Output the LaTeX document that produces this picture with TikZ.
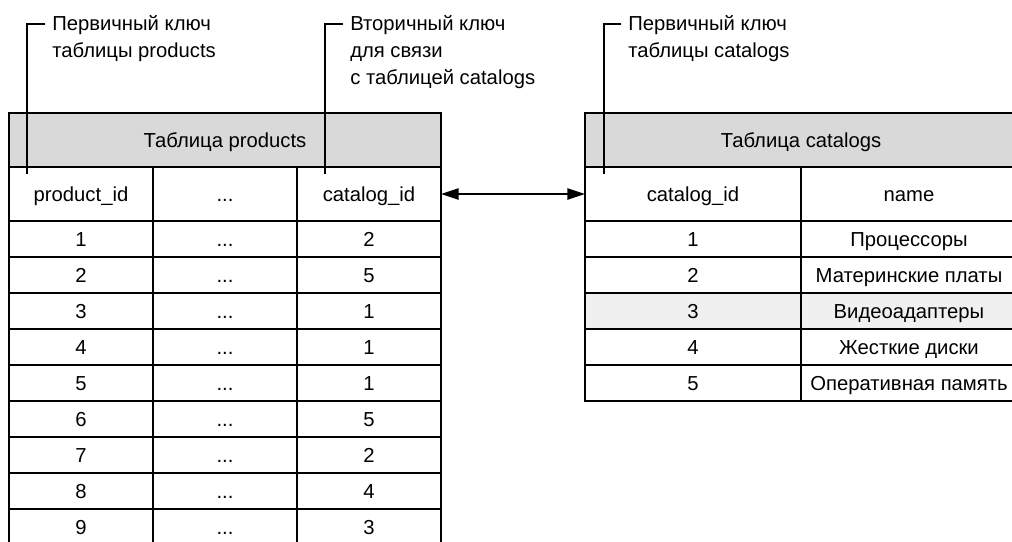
\documentclass[tikz,border=0pt]{standalone}
\usepackage{fontspec}
\setmainfont{Liberation Sans}
\usetikzlibrary{arrows.meta}

\begin{document}
\begin{tikzpicture}[
        x=0.025cm, y=-0.025cm,
        font=\fontsize{14.4}{19.2}\selectfont,
        % Стили ячеек
        cell/.style={draw=black, line width=1.4pt, rectangle, inner sep=0pt, outer sep=0pt, minimum height=0.9cm, text height=10.3pt, text depth=0pt},
        pcell/.style={cell, minimum width=3.6cm},
        ccell/.style={cell, minimum width=5.4cm},
        colcell/.style={minimum height=1.35cm},
        headcell/.style={cell, fill=black!15, minimum width=10.8cm, minimum height=1.35cm},
        keylabel/.style={anchor=base west, inner sep=0pt, align=left},
        leader/.style={draw=black, line width=1pt},
        link/.style={{Triangle[length=12.5pt, width=8pt]}-{Triangle[length=12.5pt, width=8pt]}, line width=1.2pt}
    ]
    \useasboundingbox (0,0) rectangle (1012,541);

    % ==========================================
    % 1. ТАБЛИЦА products
    % ==========================================
    \node[headcell] (phead) at (225, 140) {Таблица products};

    \node[pcell, colcell] (pcol1) at (81, 194)  {product\_id};
    \node[pcell, colcell] (pcol2) at (225, 194) {...};
    \node[pcell, colcell] (pcol3) at (369, 194) {catalog\_id};

    \foreach \i/\cid in {1/2, 2/5, 3/1, 4/1, 5/1, 6/5, 7/2, 8/4, 9/3} {
        \node[pcell] (prow\i a) at (81, 203+36*\i)  {\i};
        \node[pcell] (prow\i b) at (225, 203+36*\i) {...};
        \node[pcell] (prow\i c) at (369, 203+36*\i) {\cid};
    }

    % ==========================================
    % 2. ТАБЛИЦА catalogs
    % ==========================================
    \node[headcell] (chead) at (801, 140) {Таблица catalogs};

    \node[ccell, colcell] (ccol1) at (693, 194) {catalog\_id};
    \node[ccell, colcell] (ccol2) at (909, 194) {name};

    \foreach \i/\cname in {1/Процессоры, 2/Материнские платы, 3/Видеоадаптеры, 4/Жесткие диски, 5/Оперативная память} {
        \node[ccell] (crow\i a) at (693, 203+36*\i) {\i};
        \node[ccell] (crow\i b) at (909, 203+36*\i) {\cname};
    }
    % выделенная строка
    \node[ccell, fill=black!6] (crow3a) at (693, 311) {3};
    \node[ccell, fill=black!6] (crow3b) at (909, 311) {Видеоадаптеры};

    % ==========================================
    % 3. СВЯЗЬ И ПОДПИСИ
    % ==========================================
    \draw[link] (pcol3.east) -- (ccol1.west);

    % base west = базовая линия последней строки
    \node[keylabel] (pkprod) at (52, 57) {Первичный ключ\\таблицы products};
    \node[keylabel] (fkprod) at (350, 84) {Вторичный ключ\\для связи\\с таблицей catalogs};
    \node[keylabel] (pkcat)  at (628, 57) {Первичный ключ\\таблицы catalogs};

    \coordinate (pkprodend) at (27, 174);
    \coordinate (fkprodend) at (325, 174);
    \coordinate (pkcatend)  at (604, 174);

    \draw[leader] ([shift={(-7,-33)}]pkprod.base west) -| (pkprodend);
    \draw[leader] ([shift={(-7,-60)}]fkprod.base west) -| (fkprodend);
    \draw[leader] ([shift={(-7,-33)}]pkcat.base west) -| (pkcatend);

\end{tikzpicture}
\end{document}
